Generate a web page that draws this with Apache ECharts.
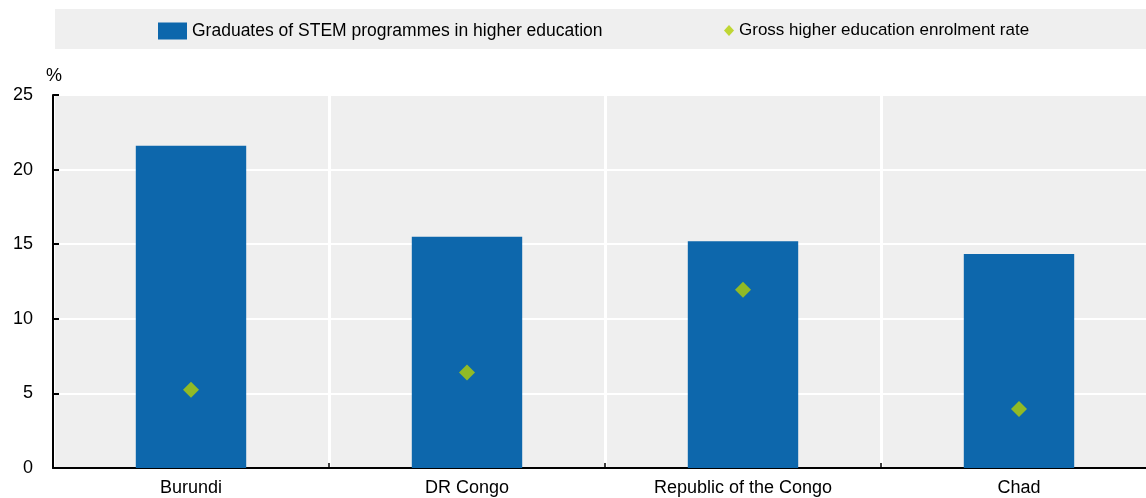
<!DOCTYPE html>
<html><head><meta charset="utf-8">
<script src="https://cdn.jsdelivr.net/npm/echarts@6/dist/echarts.min.js"></script>
<style>html,body{margin:0;padding:0;background:#fff}#c{width:1146px;height:498px}</style>
</head><body><div id="c"></div>
<script>
const categories = ['Burundi', 'DR Congo', 'Republic of the Congo', 'Chad'];
const stemGraduates = [21.6, 15.5, 15.2, 14.35];
const enrolmentRate = [5.25, 6.4, 11.95, 3.95];
const yTicks = [0, 5, 10, 15, 20, 25];
const seriesNames = ['Graduates of STEM programmes in higher education', 'Gross higher education enrolment rate'];

const FONT = 'Liberation Sans';
const chart = echarts.init(document.getElementById('c'), null, {renderer: 'canvas'});
chart.setOption({
  animation: false,
  textStyle: {fontFamily: FONT},
  graphic: [{type: 'rect', shape: {x: 55, y: 9, width: 1091, height: 40}, style: {fill: '#efefef'}, z: -1}],
  legend: [
    {data: [{name: seriesNames[0], icon: 'rect'}], left: 153, top: 17, itemWidth: 29, itemHeight: 17, itemGap: 6,
     textStyle: {fontFamily: FONT, fontSize: 17.5, color: '#000'}},
    {data: [seriesNames[1]], left: 719, top: 17, itemWidth: 10, itemHeight: 11,
     textStyle: {fontFamily: FONT, fontSize: 17, color: '#000'}}
  ],
  grid: {left: 53, right: -11, top: 95, bottom: 30, show: true, backgroundColor: '#efefef', borderWidth: 0,
         outerBoundsMode: 'none', containLabel: false},
  xAxis: {
    type: 'category', data: categories, boundaryGap: true,
    axisLine: {lineStyle: {color: '#000', width: 2}},
    axisTick: {show: true, inside: true, length: 5, lineStyle: {color: '#000', width: 1.5}},
    axisLabel: {color: '#000', fontSize: 18, margin: 11},
    splitLine: {show: true, lineStyle: {color: '#fff', width: 3}}
  },
  yAxis: {
    type: 'value', min: yTicks[0], max: yTicks[yTicks.length - 1], interval: 5,
    name: '%', nameLocation: 'end', nameGap: 10,
    nameTextStyle: {color: '#000', fontSize: 18, align: 'center', padding: [0, 0, 0, 2]},
    axisLine: {show: true, lineStyle: {color: '#000', width: 2}},
    axisTick: {show: true, inside: true, length: 6, lineStyle: {color: '#000', width: 2}},
    axisLabel: {color: '#000', fontSize: 18, margin: 20},
    splitLine: {show: true, lineStyle: {color: '#fff', width: 2}}
  },
  series: [
    {name: seriesNames[0], type: 'bar', data: stemGraduates, barWidth: '40%',
     itemStyle: {color: '#0d67ac'}, z: 2},
    {name: seriesNames[1], type: 'scatter', data: enrolmentRate, symbol: 'diamond', symbolSize: 16,
     itemStyle: {color: '#b3cf05'}, z: 3}
  ]
});
</script></body></html>
